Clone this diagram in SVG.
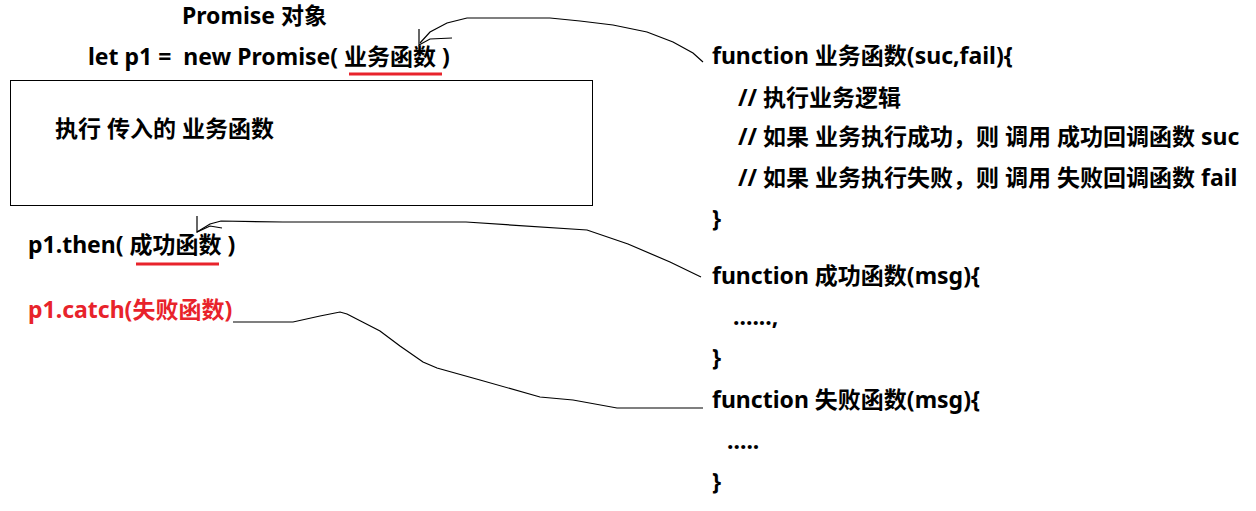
<svg xmlns="http://www.w3.org/2000/svg" width="1256" height="511" viewBox="0 0 1256 511">
<style>
text{font-family:"Noto Sans","Noto Sans CJK SC",sans-serif;font-weight:bold;font-size:23px;fill:#000;white-space:pre}
.red{fill:#e8232b}
.ul{stroke:#e8232b;stroke-width:3}
.conn{fill:none;stroke:#000;stroke-width:1.2}
</style>
<rect width="1256" height="511" fill="#fff"/>
<g id="title"><text x="182" y="24">Promise 对象</text></g>
<g id="promise-line">
<text x="88" y="65">let p1 =  new Promise( 业务函数 )</text>
<line class="ul" x1="349" y1="74" x2="442" y2="74"/>
</g>
<g id="promise-box">
<rect x="10.5" y="80.5" width="582" height="125" fill="none" stroke="#000" stroke-width="1"/>
<text x="55" y="137">执行 传入的 业务函数</text>
</g>
<g id="then-line">
<text x="28" y="253">p1.then( 成功函数 )</text>
<line class="ul" x1="136" y1="264" x2="219" y2="264"/>
</g>
<g id="catch-line"><text class="red" x="28" y="318">p1.catch(失败函数)</text></g>
<g id="business-fn">
<text x="712" y="64">function 业务函数(suc,fail){</text>
<text x="738" y="106">// 执行业务逻辑</text>
<text x="738" y="145">// 如果 业务执行成功，则 调用 成功回调函数 suc</text>
<text x="738" y="186">// 如果 业务执行失败，则 调用 失败回调函数 fail</text>
<text x="712" y="227">}</text>
</g>
<g id="success-fn">
<text x="712" y="284">function 成功函数(msg){</text>
<text x="733" y="325">......,</text>
<text x="712" y="366">}</text>
</g>
<g id="fail-fn">
<text x="712" y="408">function 失败函数(msg){</text>
<text x="727" y="449">.....</text>
<text x="712" y="490">}</text>
</g>
<g id="connectors">
<path class="conn" d="M703,62 L693,53 L673,42 L647,32 L613,25 L580,21 L550,18 L467,18 L447,23 L430,32 L420,43"/>
<path class="conn" d="M419,29 L419,45 L430,39 L452,38"/>
<path class="conn" d="M701,277 L670,262 L628,244 L587,230 L466,222 L283,222 L221,221 L210,224 L197,232"/>
<path class="conn" d="M197,216 L197,232 L210,226 L222,228"/>
<path class="conn" d="M233,322 L293,322 L320,316 L340,312 L347,314 L380,331 L400,346 L423,362 L437,368 L480,380 L540,397 L573,400 L617,408 L703,408"/>
</g>
</svg>
